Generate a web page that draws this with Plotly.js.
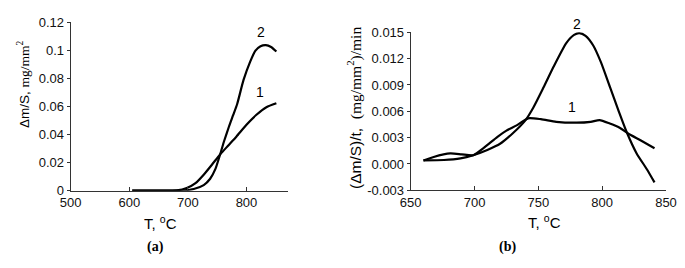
<!DOCTYPE html>
<html><head><meta charset="utf-8">
<script src="https://cdn.plot.ly/plotly-3.0.1.min.js"></script>
<style>html,body{margin:0;padding:0;background:#fff}#c{width:685px;height:268px}</style>
</head><body><div id="c"></div>
<script>
// (a) mass gain vs temperature
const aT1 = [605, 650, 681, 698, 713, 727, 741, 755, 769, 783, 800, 817, 834, 851];
const aY1 = [0, 0, 0.0002, 0.0019, 0.0054, 0.0114, 0.0185, 0.0258, 0.0322, 0.0386, 0.0469, 0.054, 0.0594, 0.0622];
const aT2 = [605, 650, 680, 693, 710, 727, 738, 747, 755, 762, 770, 777, 784, 795, 806, 815, 824, 833, 842, 851];
const aY2 = [0, 0, 0, 0.0002, 0.0012, 0.004, 0.0085, 0.0155, 0.0258, 0.0355, 0.0455, 0.0535, 0.0615, 0.0788, 0.0915, 0.0995, 0.1028, 0.1036, 0.1022, 0.099];
// (b) rate vs temperature
const bT1 = [660, 668, 681, 690, 699, 707, 718, 725, 733, 742, 752, 764, 780, 791, 798, 806, 814, 820, 830, 841];
const bY1 = [0.0004, 0.0008, 0.0012, 0.0011, 0.001, 0.0018, 0.0031, 0.0038, 0.0044, 0.0052, 0.0051, 0.0048, 0.0047, 0.0048, 0.005, 0.0046, 0.0041, 0.0035, 0.0027, 0.0018];
const bT2 = [660, 676, 689, 699, 710, 720, 730, 740, 746, 754, 762, 772, 778, 782, 787, 793, 799, 806, 813, 819, 827, 835, 841];
const bY2 = [0.0004, 0.00045, 0.00064, 0.001, 0.0016, 0.0023, 0.0035, 0.005, 0.0064, 0.0087, 0.0111, 0.0138, 0.0147, 0.0149, 0.0146, 0.0135, 0.0116, 0.0088, 0.006, 0.0037, 0.0012, -0.0006, -0.0021];
const aTicksX = [500, 600, 700, 800];
const aTicksY = [0, 0.02, 0.04, 0.06, 0.08, 0.1, 0.12];
const aTickTextY = ['0', '0.02', '0.04', '0.06', '0.08', '0.1', '0.12'];
const bTicksX = [650, 700, 750, 800, 850];
const bTicksY = [-0.003, 0, 0.003, 0.006, 0.009, 0.012, 0.015];
const bTickTextY = ['-0.003', '0.000', '0.003', '0.006', '0.009', '0.012', '0.015'];

const W = 685, H = 268;
const px = x => x / W, py = y => (H - y) / H;
const line = {color: '#000', width: 2.2, shape: 'spline', smoothing: 0.6};
const traces = [
  {x: aT1, y: aY1, mode: 'lines', line: line, xaxis: 'x', yaxis: 'y', hoverinfo: 'skip'},
  {x: aT2, y: aY2, mode: 'lines', line: line, xaxis: 'x', yaxis: 'y', hoverinfo: 'skip'},
  {x: bT1, y: bY1, mode: 'lines', line: line, xaxis: 'x2', yaxis: 'y2', hoverinfo: 'skip'},
  {x: bT2, y: bY2, mode: 'lines', line: line, xaxis: 'x2', yaxis: 'y2', hoverinfo: 'skip'}
];
const SANS = 'Liberation Sans, Arial, sans-serif';
const SERIF = 'Liberation Serif, Times New Roman, serif';
const tickFont = {family: SANS, size: 13, color: '#111'};
const ax = {showline: true, linecolor: '#333', linewidth: 1, showgrid: false, zeroline: false,
  tickfont: tickFont, tickcolor: '#333', fixedrange: true};
function note(text, x, y, size, family, extra) {
  return Object.assign({text: text, x: px(x), y: py(y), xref: 'paper', yref: 'paper',
    xanchor: 'center', yanchor: 'middle', showarrow: false,
    font: {family: family, size: size, color: '#000'}}, extra || {});
}
const layout = {
  width: W, height: H, margin: {l: 0, r: 0, t: 0, b: 0},
  paper_bgcolor: '#fff', plot_bgcolor: '#fff', showlegend: false,
  xaxis: Object.assign({}, ax, {domain: [px(70.7), px(287.5)], range: [500, 870], tickvals: aTicksX, ticks: 'inside', ticklen: 4, anchor: 'y'}),
  yaxis: Object.assign({}, ax, {domain: [py(190.7), py(22)], range: [0, 0.12], tickvals: aTicksY, ticktext: aTickTextY, ticks: 'outside', ticklen: 3, anchor: 'x'}),
  xaxis2: Object.assign({}, ax, {domain: [px(410.7), px(666)], range: [650, 850], tickvals: bTicksX, ticks: 'inside', ticklen: 4, anchor: 'y2'}),
  yaxis2: Object.assign({}, ax, {domain: [py(190.3), py(32.3)], range: [-0.003, 0.015], tickvals: bTicksY, ticktext: bTickTextY, ticks: 'outside', ticklen: 3, anchor: 'x2'}),
  annotations: [
    note('2', 261, 32, 14, SANS),
    note('1', 260, 92, 14, SANS),
    note('2', 577, 24, 14, SANS),
    note('1', 572, 107, 14, SANS),
    note('T, <sup>o</sup>C', 160, 222, 15, SANS),
    note('T, <sup>o</sup>C', 544, 221, 15, SANS),
    note('<b>(a)</b>', 155, 247, 14, SERIF),
    note('<b>(b)</b>', 507, 247, 14, SERIF),
    note('Δm/S, <span style="font-family:Liberation Serif">mg/mm<sup>2</sup></span>', 23, 84, 13.5, SANS, {textangle: -90}),
    note('(Δm/S)/t,  <span style="font-family:Liberation Serif">(mg/mm<sup>2</sup>)/min</span>', 354, 108, 15.5, SANS, {textangle: -90})
  ]
};
Plotly.newPlot('c', traces, layout, {staticPlot: true, displayModeBar: false});
</script></body></html>
